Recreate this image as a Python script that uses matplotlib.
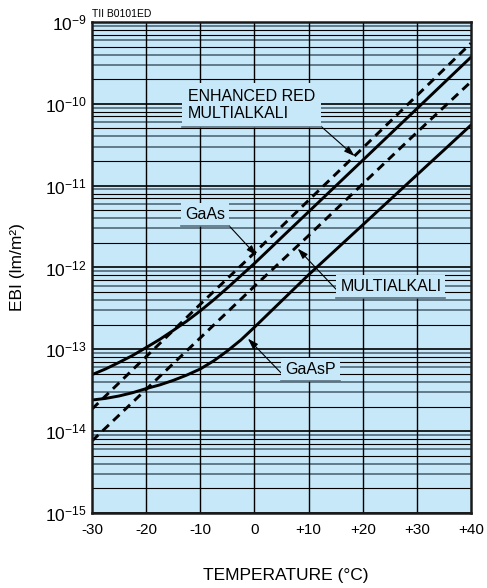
import numpy as np
import matplotlib
matplotlib.use("Agg")
import matplotlib.pyplot as plt
from matplotlib.lines import Line2D
from matplotlib.transforms import IdentityTransform

plt.rcParams['font.family'] = ['Liberation Sans', 'DejaVu Sans']
plt.rcParams['mathtext.default'] = 'regular'

# temperature (deg C) and EBI (lm/m2)
temp_curve = [-30, -27.5, -25, -22.5, -20, -17.5, -15, -12.5, -10, -7.5, -5, -2.5,
              0, 2.5, 5, 10, 15, 20, 25, 30, 35, 40]
ebi_gaas = [4.90e-14, 5.75e-14, 6.92e-14, 8.41e-14, 1.05e-13, 1.32e-13, 1.70e-13,
            2.21e-13, 2.95e-13, 4.03e-13, 5.62e-13, 7.94e-13, 1.12e-12, 1.61e-12,
            2.32e-12, 4.79e-12, 9.89e-12, 2.04e-11, 4.22e-11, 8.71e-11, 1.80e-10, 3.72e-10]
ebi_gaasp = [2.40e-14, 2.51e-14, 2.69e-14, 2.95e-14, 3.31e-14, 3.67e-14, 4.17e-14,
             4.84e-14, 5.75e-14, 7.24e-14, 9.55e-14, 1.30e-13, 1.86e-13, 2.69e-13,
             3.89e-13, 8.13e-13, 1.64e-12, 3.31e-12, 6.68e-12, 1.35e-11, 2.72e-11, 5.50e-11]

temp_dash = [-30, -20, -10, 0, 10, 20, 30, 40]
ebi_enh_red = [1.86e-14, 8.13e-14, 3.55e-13, 1.51e-12, 6.61e-12, 2.88e-11, 1.26e-10, 5.50e-10]
ebi_multialkali = [7.59e-15, 3.24e-14, 1.38e-13, 5.89e-13, 2.45e-12, 1.05e-11, 4.47e-11, 1.86e-10]

x_ticks = [-30, -20, -10, 0, 10, 20, 30, 40]
x_ticklabels = ['-30', '-20', '-10', '0', '+10', '+20', '+30', '+40']
y_decades = [-15, -14, -13, -12, -11, -10, -9]

bg = '#c6e8f8'
slate = '#5a7282'

fig = plt.figure(figsize=(4.87, 5.88), dpi=100)
ax = fig.add_axes([0.1889, 0.1276, 0.7782, 0.8350])
ax.set_facecolor(bg)
ax.set_yscale('log')
ax.set_xlim(-30, 40)
ax.set_ylim(1e-15, 1e-9)

# grid lines
for d in y_decades[:-1]:
    for m in range(2, 10):
        c, w = (slate, 1.3) if m in (3, 4, 6, 9) else ('black', 0.8)
        ax.axhline(m * 10.0 ** d, color=c, lw=w, zorder=1)
for d in y_decades:
    ax.axhline(10.0 ** d, color='black', lw=1.2, zorder=1)
for t in x_ticks[1:-1]:
    ax.axvline(t, color='black', lw=1.0, zorder=1)

# curves
ax.plot(temp_curve, ebi_gaas, color='black', lw=2.1, zorder=3)
ax.plot(temp_curve, ebi_gaasp, color='black', lw=2.1, zorder=3)
ax.plot(temp_dash, ebi_enh_red, color='black', lw=2.1, dashes=(3.0, 2.0), zorder=3)
ax.plot(temp_dash, ebi_multialkali, color='black', lw=2.1, dashes=(3.0, 2.0), zorder=3)

# labels with leader arrows
labels = [
    ("ENHANCED RED\nMULTIALKALI", (18.5, 2.3e-11), (-12.3, 9.7e-11), 'left', (1, 0), 0.35),
    ("GaAs", (0.4, 1.40e-12), (-9.1, 4.5e-12), 'center', (1, 0), 0.25),
    ("MULTIALKALI", (8.0, 1.7e-12), (25.2, 5.9e-13), 'center', (0, 0), 0.25),
    ("GaAsP", (-1.2, 1.35e-13), (10.4, 5.6e-14), 'center', (0, 0), 0.25),
]
anns = []
for txt, tip, pos, ha, rp, pad in labels:
    a = ax.annotate(txt, xy=tip, xytext=pos, ha=ha, va='center', fontsize=11.5,
                    multialignment='left', zorder=4,
                    bbox=dict(boxstyle='square,pad=%s' % pad, fc=bg, ec='none'),
                    arrowprops=dict(arrowstyle='-|>,head_length=0.55,head_width=0.18',
                                    color='black', lw=0.8, relpos=rp,
                                    shrinkA=0, shrinkB=0))
    anns.append(a)

ax.set_xticks(x_ticks)
ax.set_xticklabels(x_ticklabels, fontsize=11)
ax.set_yticks([10.0 ** d for d in y_decades])
ax.set_yticklabels([r'$10^{%d}$' % d for d in y_decades], fontsize=12.5)
ax.minorticks_off()
ax.tick_params(axis='both', length=0)
ax.tick_params(axis='x', pad=7)
ax.tick_params(axis='y', pad=4)
for s in ax.spines.values():
    s.set_linewidth(1.8)
    s.set_color('#1a1a1a')
    s.set_zorder(5)

ax.set_xlabel('TEMPERATURE (\u00b0C)', fontsize=12.5)
ax.xaxis.set_label_coords(0.512, -0.113)
ax.set_ylabel('EBI (lm/m\u00b2)', fontsize=12.5)
ax.yaxis.set_label_coords(-0.178, 0.5)

fig.text(92 / 487, 1 - 14 / 588, 'TII B0101ED', fontsize=7.5, va='center', ha='left')

# underline each label box
fig.canvas.draw()
r = fig.canvas.get_renderer()
for a in anns:
    bb = a.get_bbox_patch().get_window_extent(r)
    fig.add_artist(Line2D([bb.x0, bb.x1], [bb.y0, bb.y0], transform=IdentityTransform(),
                          color=slate, lw=1.2, zorder=6))

fig.savefig('out.png', dpi=100)
